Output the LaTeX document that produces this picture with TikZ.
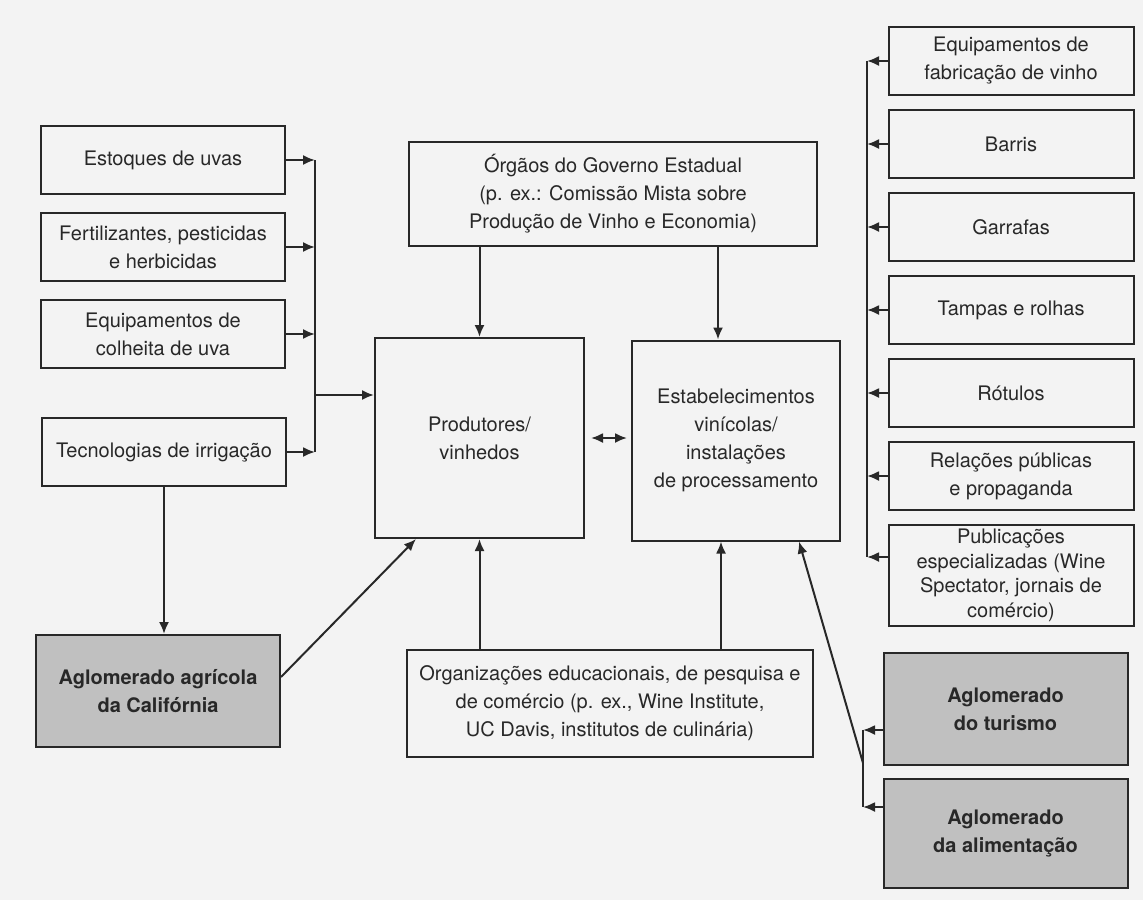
\documentclass[tikz,border=0pt]{standalone}
\usepackage{fontspec}
\setmainfont{TeX Gyre Heros}
\usetikzlibrary{arrows.meta,calc,positioning}
\definecolor{scanbg}{RGB}{243,243,243}
\definecolor{ink}{RGB}{40,40,40}
\definecolor{clustergray}{RGB}{192,192,192}
\tikzset{
	>={Latex[length=6pt,width=5pt]},->,
	node distance =6.5pt and 10pt,
	box/.style ={rectangle, draw=ink, text=ink, align=center, inner sep=2pt, font=\fontsize{10}{14}\selectfont},
	supbox/.style ={box, minimum width=122pt, minimum height=34pt},
	cluster/.style ={box, fill=clustergray, minimum width=122pt, font=\fontsize{10}{14}\selectfont\bfseries},
	bus/.style ={-}
}
\begin{document}
\begin{tikzpicture}[x=0.5pt,y=-0.5pt,color=ink,line width=1pt]
	\fill[scanbg] (0,0) rectangle (1143,900);

	\node[supbox] (est) at (163,160) {Estoques de uvas};
	\node[supbox] (fert) [below=8.5pt of est] {Fertilizantes, pesticidas\\e herbicidas};
	\node[supbox] (colh) [below=8.5pt of fert] {Equipamentos de\\colheita de uva};
	\node[supbox] (irrig) at (164,452) {Tecnologias de irrigação};
	\node[cluster, minimum height=56pt] (agric) at (158,691) {Aglomerado agrícola\\da Califórnia};

	\node[box, minimum width=204pt, minimum height=52pt] (gov) at (613,194) {Órgãos do Governo Estadual\\(p. ex.: Comissão Mista sobre\\Produção de Vinho e Economia)};
	\node[box, minimum width=104.5pt, minimum height=100pt] (prod) at (479.5,438) {Produtores/\\vinhedos};
	\node[box, minimum width=104pt, minimum height=100pt] (estab) at (736,440.5) {Estabelecimentos\\vinícolas/\\instalações\\de processamento};
	\node[box, minimum width=203pt, minimum height=53.5pt] (org) at (610,703.5) {Organizações educacionais, de pesquisa e\\de comércio (p. ex., Wine Institute,\\UC Davis, institutos de culinária)};

	\node[supbox, minimum width=122.5pt] (fab) at (1011,61) {Equipamentos de\\fabricação de vinho};
	\node[supbox, minimum width=122.5pt] (barris) [below=of fab] {Barris};
	\node[supbox, minimum width=122.5pt] (garr) [below=of barris] {Garrafas};
	\node[supbox, minimum width=122.5pt] (tamp) [below=of garr] {Tampas e rolhas};
	\node[supbox, minimum width=122.5pt] (rot) [below=of tamp] {Rótulos};
	\node[supbox, minimum width=122.5pt] (rel) [below=of rot] {Relações públicas\\e propaganda};
	\node[supbox, minimum width=122.5pt, minimum height=50.5pt, font=\fontsize{10}{12.3}\selectfont] (pub) [below=of rel] {Publicações\\especializadas (Wine\\Spectator, jornais de\\comércio)};
	\node[cluster, minimum height=56pt] (tur) at (1005.5,709) {Aglomerado\\do turismo};
	\node[cluster, minimum height=54.5pt] (alim) at (1005.5,833.5) {Aglomerado\\da alimentação};

	\coordinate (lbus) at (315,0);
	\coordinate (lfeed) at (315,395);
	\coordinate (rbus) at (867,0);
	\coordinate (rpub) at (867,557);
	\coordinate (ttur) at (863,730);
	\coordinate (talim) at (863,807);
	\coordinate (tjoin) at (863,763);

	\draw[bus] (lbus |- est.east) -- (lbus |- irrig.east);
	\foreach \s in {est,fert,colh,irrig}
		\draw (\s.east) -- (\s.east -| lbus);
	\draw (lfeed) -- (lfeed -| prod.west);
	\draw (irrig.south) -- (irrig.south |- agric.north);
	\draw ([yshift=7pt]agric.east) -- ([xshift=21pt]prod.south west);

	\draw (gov.south -| prod.north) -- (prod.north);
	\draw ([xshift=-9pt]estab.north |- gov.south) -- ([xshift=-9pt]estab.north);
	\draw[<->, shorten <=3pt, shorten >=2pt] (prod.east) -- (estab.west |- prod.east);
	\draw (org.north -| prod.south) -- (prod.south);
	\draw ([xshift=-7.5pt]estab.south |- org.north) -- ([xshift=-7.5pt]estab.south);

	\draw[bus] (rbus |- fab.west) -- (rpub);
	\foreach \s in {fab,barris,garr,tamp,rot,rel}
		\draw (\s.west) -- (\s.west -| rbus);
	\draw (pub.west |- rpub) -- (rpub);

	\draw[bus] (ttur) -- (talim);
	\draw (tur.west |- ttur) -- (ttur);
	\draw (alim.west |- talim) -- (talim);
	\draw (tjoin) -- ([xshift=-21pt]estab.south east);
\end{tikzpicture}
\end{document}
